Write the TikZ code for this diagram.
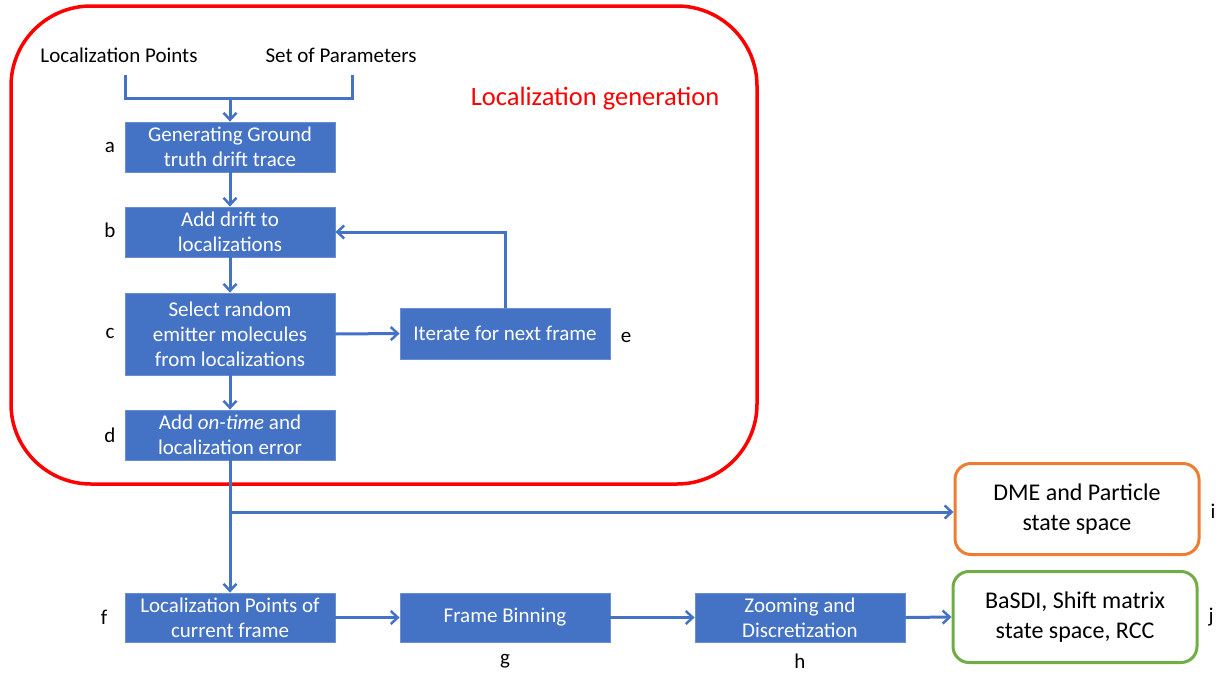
\documentclass[tikz,border=0pt]{standalone}
\usepackage{fontspec}
\setmainfont{Carlito}
\usetikzlibrary{arrows.meta}
\definecolor{boxblue}{HTML}{4472C4}
\definecolor{boxedge}{HTML}{6A8ED0}
\definecolor{redline}{HTML}{FF0000}
\definecolor{orangeline}{HTML}{ED7D31}
\definecolor{greenline}{HTML}{70AD47}
\begin{document}
\begin{tikzpicture}[x=1pt,y=-1pt,
  bluebox/.style={draw=boxedge,line width=0.8pt,fill=boxblue,text=white,minimum width=210pt,align=center,inner sep=0pt,font=\fontsize{21}{25}\selectfont},
  outbox/.style={rounded corners=16pt,line width=3pt,fill=white,minimum width=244pt,minimum height=91pt,align=center,font=\fontsize{24}{30}\selectfont},
  conn/.style={draw=boxblue,line width=3pt,-{Straight Barb[length=7pt,width=13pt,line width=2.5pt]}},
  plain/.style={draw=boxblue,line width=3pt},
  lbl/.style={font=\fontsize{21}{25}\selectfont,inner sep=0pt},
]
\useasboundingbox (0,0) rectangle (1230,675);
% red frame
\draw[redline,line width=3.5pt,rounded corners=80pt] (11,6) rectangle (757,484);
\node[text=redline,font=\fontsize{26.5}{30}\selectfont] (title) at (595,99) {Localization generation};
% inputs
\node[lbl] (lp) at (119,55) {Localization Points};
\node[lbl] (sp) at (341,55) {Set of Parameters};
\coordinate (lpb) at (125,75);
\coordinate (spb) at (352,75);
\coordinate (lpc) at (125,98);
\coordinate (spc) at (352,98);
\coordinate (mid) at (230,98);
% boxes
\node[bluebox,minimum height=50pt] (a) at (230,147) {Generating Ground\\truth drift trace};
\node[bluebox,minimum height=50pt] (b) at (230,232) {Add drift to\\localizations};
\node[bluebox,minimum height=82pt] (c) at (230,334) {Select random\\emitter molecules\\from localizations};
\node[bluebox,minimum height=51pt] (e) at (505,333.5) {Iterate for next frame};
\node[bluebox,minimum height=50pt] (d) at (230,435) {Add \textit{on-time} and\\localization error};
\node[bluebox,minimum height=49pt] (f) at (230,617.5) {Localization Points of\\current frame};
\node[bluebox,minimum height=49pt] (g) at (505,617.5) {Frame Binning};
\node[bluebox,minimum height=49pt] (h) at (800,617.5) {Zooming and\\Discretization};
\node[outbox,draw=orangeline] (i) at (1077,509) {DME and Particle\\state space};
\node[outbox,draw=greenline] (j) at (1075,617) {BaSDI, Shift matrix\\state space, RCC};
% letters
\node[lbl] (la) at (110,147) {a};
\node[lbl] (lb) at (110,230) {b};
\node[lbl] (lc) at (110,333) {c};
\node[lbl] (ld) at (110,435) {d};
\node[lbl] (le) at (626,337) {e};
\node[lbl] (lf) at (104,617) {f};
\node[lbl] (lg) at (505,661) {g};
\node[lbl] (lh) at (800,661) {h};
\node[lbl] (li) at (1213,511) {i};
\node[lbl] (lj) at (1211,617) {j};
% connectors
\draw[plain] (lpb) -- (lpc) -- (spc) -- (spb);
\draw[conn] (mid) -- (a.north);
\draw[conn] (a.south) -- (b.north);
\draw[conn] (b.south) -- (c.north);
\draw[conn] (c.south) -- (d.north);
\draw[conn] (c.east) -- (e.west);
\draw[conn] (e.north) |- (b.east);
\draw[conn] (d.south) -- (f.north);
\coordinate (br) at (230,512);
\draw[conn] (br) -- (br -| i.west);
\draw[conn] (f.east) -- (g.west);
\draw[conn] (g.east) -- (h.west);
\draw[conn] (h.east) -- (j.west);
\end{tikzpicture}
\end{document}
